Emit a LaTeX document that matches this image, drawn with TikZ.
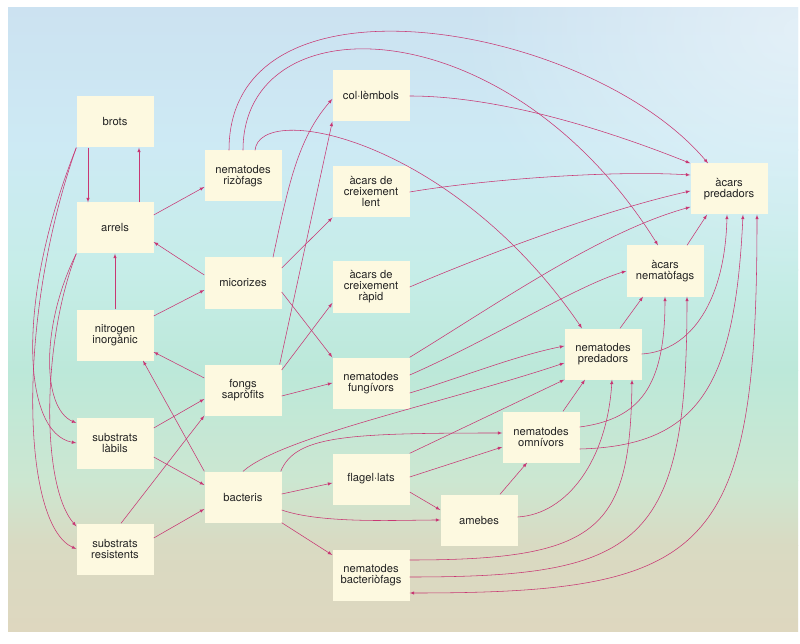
\documentclass[tikz,border=0pt]{standalone}
\usepackage{fontspec}
\setmainfont{TeX Gyre Heros}
\usetikzlibrary{calc,fadings}

\definecolor{linkred}{RGB}{200,55,115}
\definecolor{boxfill}{RGB}{253,249,224}
\definecolor{ink}{RGB}{35,35,35}
\definecolor{bgA}{RGB}{204,226,241}
\definecolor{bgB}{RGB}{205,234,244}
\definecolor{bgC}{RGB}{198,237,232}
\definecolor{bgD}{RGB}{188,232,217}
\definecolor{bgE}{RGB}{204,231,209}
\definecolor{bgF}{RGB}{217,218,194}
\definecolor{bgG}{RGB}{222,215,191}
\tikzfading[name=softglow,inner color=transparent!0,outer color=transparent!100]

\begin{document}
\begin{tikzpicture}[x=1pt,y=1pt,
  box/.style={fill=boxfill,minimum width=77pt,minimum height=51pt,inner sep=0pt,
    align=center,text=ink,font=\fontsize{11.2}{11}\selectfont},
  link/.style={draw=linkred,line width=0.55pt,-latex}]

  \path[use as bounding box] (0,0) rectangle (800,-644);
  \fill[white] (0,0) rectangle (800,-644);
  \foreach \ya/\yb/\ca/\cb in {8/150/bgA/bgB,150/270/bgB/bgC,270/370/bgC/bgD,
      370/480/bgD/bgE,480/545/bgE/bgF,545/631/bgF/bgG} {
    \shade[top color=\ca,bottom color=\cb] (8,-\ya) rectangle (798,-\yb-0.5);
  }
  \begin{scope}
    \clip (8,-8) rectangle (798,-631);
    \fill[white,fill opacity=0.45,path fading=softglow] (800,-30) ellipse [x radius=340,y radius=260];
  \end{scope}

  % plants and substrates
  \node[box] (brots) at (115,-122) {brots};
  \node[box] (arrels) at (115,-228) {arrels};
  \node[box] (nitro) at (115,-335) {nitrogen\\inorgànic};
  \node[box] (labils) at (115,-443) {substrats\\làbils};
  \node[box] (resist) at (115,-549) {substrats\\resistents};

  \node[box] (rizo) at (243,-176) {nematodes\\rizòfags};
  \node[box] (micor) at (243,-283) {micorizes};
  \node[box] (fongs) at (243,-390) {fongs\\sapròfits};
  \node[box] (bact) at (243,-497) {bacteris};

  \node[box] (collem) at (371,-96) {col·lèmbols};
  \node[box] (lent) at (371,-192) {àcars de\\creixement\\lent};
  \node[box] (rapid) at (371,-287) {àcars de\\creixement\\ràpid};
  \node[box] (fungi) at (371,-383) {nematodes\\fungívors};
  \node[box] (flagel) at (371,-479) {flagel·lats};
  \node[box] (bacterio) at (371,-575) {nematodes\\bacteriòfags};

  % predators
  \node[box] (amebes) at (479,-520) {amebes};
  \node[box] (omni) at (541,-437) {nematodes\\omnívors};
  \node[box] (npred) at (603,-354) {nematodes\\predadors};
  \node[box] (nemato) at (665,-271) {àcars\\nematòfags};
  \node[box] (apred) at (729,-189) {àcars\\predadors};

  \draw[link] ([xshift=-27pt]brots.south) -- ([xshift=-27pt]arrels.north);
  \draw[link] ([xshift=24pt]arrels.north) -- ([xshift=24pt]brots.south);
  \draw[link] (nitro) -- (arrels);
  \draw[link] ([yshift=13pt]arrels.east) -- ([yshift=-11pt]rizo.west);
  \draw[link] ([yshift=8pt]micor.west) -- ([yshift=-14pt]arrels.east);
  \draw[link] ([yshift=19pt]nitro.east) -- ([yshift=-7pt]micor.west);
  \draw[link] ([xshift=30pt]micor.north) .. controls +(15,70) and +(-35,-40) .. ([yshift=-3pt]collem.west);
  \draw[link] ([yshift=15pt]micor.east) -- (lent.south west);
  \draw[link] ([yshift=-9pt]micor.east) -- (fungi.north west);
  \draw[link] ([xshift=-2pt]fongs.north east) -- (collem.south west);
  \draw[link] ([yshift=20pt]fongs.east) -- ([yshift=-16pt]rapid.west);
  \draw[link] ([yshift=12pt]fongs.west) -- ([yshift=-17pt]nitro.east);
  \draw[link] ([yshift=15pt]labils.east) -- ([yshift=-9pt]fongs.west);
  \draw[link] ([xshift=6pt]resist.north) -- (fongs.south west);
  \draw[link] (bact.north west) -- ([xshift=28pt]nitro.south);
  \draw[link] ([yshift=-14pt]labils.east) -- ([yshift=12pt]bact.west);
  \draw[link] ([yshift=11pt]resist.east) -- ([yshift=-12pt]bact.west);
  \draw[link] ([yshift=-6pt]fongs.east) -- (fungi.west);
  \draw[link] ([yshift=3pt]bact.east) -- ([yshift=-4pt]flagel.west);
  \draw[link] ([yshift=-13pt]bact.east) .. controls +(40,-14) and +(-40,0) .. (amebes.west);
  \draw[link] (bact.south east) -- ([yshift=20pt]bacterio.west);
  \draw[link] (bact.north) .. controls +(40,35) and +(-120,-40) .. ([yshift=-9pt]npred.west);
  \draw[link] ([xshift=-1pt]bact.north east) .. controls +(15,35) and +(-160,0) .. ([yshift=4pt]omni.west);
  \draw[link] (flagel.north east) -- (npred.south west);
  \draw[link] ([yshift=2pt]flagel.east) -- ([yshift=-10pt]omni.west);
  \draw[link] ([yshift=-13pt]flagel.east) -- ([yshift=10pt]amebes.west);
  \draw[link] ([xshift=21pt]amebes.north) -- ([xshift=-14pt]omni.south);
  \draw[link] ([yshift=3pt]amebes.east) .. controls +(50,3) and +(-5,-80) .. ([xshift=9pt]npred.south);
  \draw[link] ([yshift=15pt]bacterio.east) .. controls +(190,0) and +(-2,-150) .. ([xshift=29pt]npred.south);
  \draw[link] ([yshift=-2pt]bacterio.east) .. controls +(230,0) and +(0,-250) .. ([xshift=22pt]nemato.south);
  \draw[link,latex-latex] ([yshift=-18pt]bacterio.east) .. controls +(300,0) and +(0,-340) .. ([xshift=28pt]apred.south);
  \draw[link] ([xshift=22pt]omni.north) -- ([xshift=-18pt]npred.south);
  \draw[link] ([yshift=10pt]omni.east) .. controls +(60,8) and +(0,-90) .. (nemato.south);
  \draw[link] ([yshift=-12pt]omni.east) .. controls +(120,3) and +(-8,-170) .. ([xshift=14pt]apred.south);
  \draw[link] ([xshift=17pt]npred.north) -- ([xshift=-22pt]nemato.south);
  \draw[link] (npred.east) .. controls +(50,3) and +(-2,-85) .. ([xshift=-2pt]apred.south);
  \draw[link] ([xshift=22pt]nemato.north) -- ([xshift=-22pt]apred.south);

  % long arcs over the top
  \draw[link] ([xshift=-14pt]rizo.north) .. controls +(0,190) and +(-118,140) .. ([xshift=-21pt]apred.north);
  \draw[link] (rizo.north) .. controls +(0,150) and +(-150,240) .. ([xshift=-7pt]nemato.north);
  \draw[link] ([xshift=12pt]rizo.north) .. controls +(5,50) and +(-130,190) .. ([xshift=-21pt]npred.north);

  \draw[link] (collem.east) .. controls +(80,0) and +(-100,40) .. (apred.north west);
  \draw[link] (lent.east) .. controls +(70,12) and +(-80,5) .. ([yshift=14pt]apred.west);
  \draw[link] (rapid.east) .. controls +(70,30) and +(-90,-20) .. ([yshift=-2pt]apred.west);
  \draw[link] (fungi.north east) .. controls +(90,55) and +(-90,-25) .. ([yshift=-18pt]apred.west);
  \draw[link] ([yshift=8pt]fungi.east) .. controls +(80,35) and +(-50,-15) .. (nemato.west);
  \draw[link] ([yshift=-10pt]fungi.east) .. controls +(50,15) and +(-50,-10) .. ([yshift=8pt]npred.west);

  % left side down to the substrates
  \draw[link] (brots.south west) .. controls +(-60,-150) and +(-55,10) .. (labils.west);
  \draw[link] (brots.south west) .. controls +(-60,-170) and +(-55,25) .. (resist.west);
  \draw[link] (arrels.south west) .. controls +(-35,-70) and +(-35,15) .. ([yshift=20pt]labils.west);
  \draw[link] (arrels.south west) .. controls +(-35,-90) and +(-35,40) .. ([yshift=-3pt]resist.north west);
\end{tikzpicture}
\end{document}
